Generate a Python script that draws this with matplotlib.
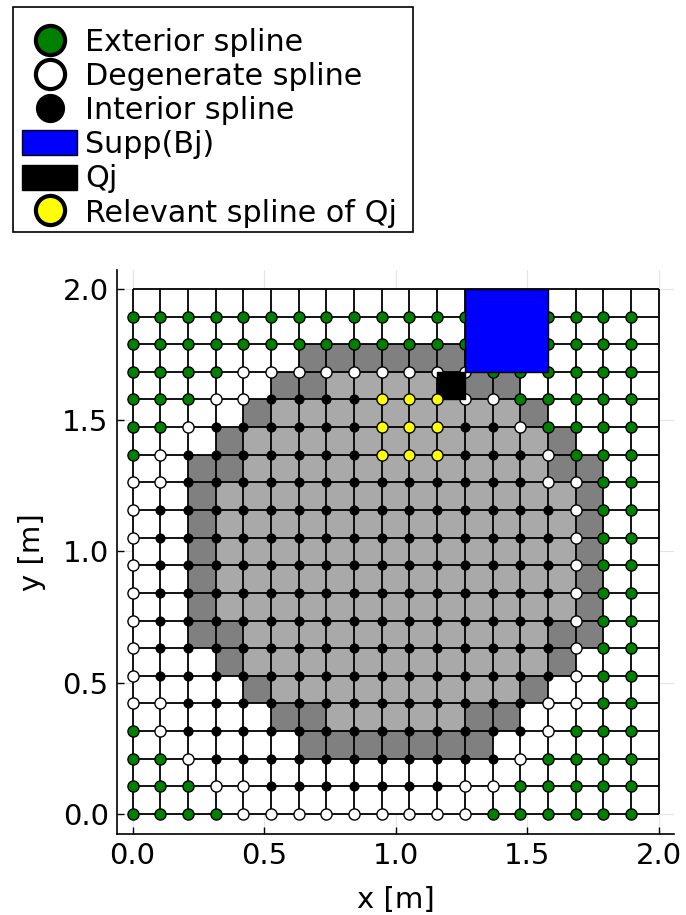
import numpy as np
import matplotlib
matplotlib.use("Agg")
import matplotlib.pyplot as plt
from matplotlib.colors import ListedColormap
from matplotlib.lines import Line2D
from matplotlib.patches import Patch, Rectangle

plt.rcParams['font.family'] = ['DejaVu Sans']

# Uniform grid on [0, 2] x [0, 2] with 19 cells per direction
n_cells = 19
domain_length = 2.0

# Cell classification, top row (j=18) first:
# '.' outside the domain, 'c' cut by the boundary, 'i' fully inside
cell_rows = [
    "...................",
    "...................",
    "......ccccccc......",
    ".....cciiiiicc.....",
    "....ciiiiiiiiic....",
    "...ciiiiiiiiiiic...",
    "..cciiiiiiiiiiicc..",
    "..ciiiiiiiiiiiiic..",
    "..ciiiiiiiiiiiiic..",
    "..ciiiiiiiiiiiiic..",
    "..ciiiiiiiiiiiiic..",
    "..ciiiiiiiiiiiiic..",
    "..cciiiiiiiiiiicc..",
    "...ciiiiiiiiiiic...",
    "....ciiiiiiiiic....",
    ".....cciiiiicc.....",
    "......ccccccc......",
    "...................",
    "...................",
]

# Spline classification at each lower-left support node, top row (j=18) first:
# 'E' exterior, 'D' degenerate, 'I' interior
spline_rows = [
    "EEEEEEEEEEEEEEEEEEE",
    "EEEEEEEEEEEEEEEEEEE",
    "EEEEDDDDDDDDDEEEEEE",
    "EEEDDIIIIIIIDDEEEEE",
    "EEDIIIIIIIIIIIDEEEE",
    "EDIIIIIIIIIIIIIDEEE",
    "DDIIIIIIIIIIIIIDDEE",
    "DIIIIIIIIIIIIIIIDEE",
    "DIIIIIIIIIIIIIIIDEE",
    "DIIIIIIIIIIIIIIIDEE",
    "DIIIIIIIIIIIIIIIDEE",
    "DIIIIIIIIIIIIIIIDEE",
    "DIIIIIIIIIIIIIIIDEE",
    "DIIIIIIIIIIIIIIIDEE",
    "DDIIIIIIIIIIIIIDDEE",
    "EDIIIIIIIIIIIIIDEEE",
    "EEDIIIIIIIIIIIDEEEE",
    "EEEDDIIIIIIIDDEEEEE",
    "EEEEDDDDDDDDDEEEEEE",
]

# Support of B_j (cell index ranges) and the cell Q_j
supp_cols = [12, 13, 14]
supp_rows = [16, 17, 18]
q_col = 11
q_row = 15

# Splines relevant for Q_j (node indices)
relevant_cols = [9, 10, 11]
relevant_rows = [13, 14, 15]

tick_values = [0.0, 0.5, 1.0, 1.5, 2.0]
tick_labels = ["0.0", "0.5", "1.0", "1.5", "2.0"]

h = domain_length / n_cells
edges = np.arange(n_cells + 1) * h

cell_code = {'.': 0, 'c': 1, 'i': 2}
cells = np.array([[cell_code[ch] for ch in row] for row in cell_rows[::-1]])
types = np.array([list(row) for row in spline_rows[::-1]])
jj, ii = np.indices(types.shape)

FS = 21
LFS = 21.7
W, H = 686, 915
fig = plt.figure(figsize=(W / 100, H / 100), dpi=100)
ax = fig.add_axes([117 / W, 81 / H, 557 / W, 564 / H])

# background grid at tick positions
ax.set_axisbelow(True)
ax.grid(True, color='#e4e4e4', lw=0.8, zorder=0)

cmap = ListedColormap(['#ffffff', '#808080', '#a9a9a9'])
ax.pcolormesh(edges, edges, cells, cmap=cmap, vmin=-0.5, vmax=2.5, zorder=1)

ax.vlines(edges, 0, domain_length, colors='black', lw=1.3, zorder=2)
ax.hlines(edges, 0, domain_length, colors='black', lw=1.3, zorder=2)

style = {
    'E': dict(mfc='#008000', mec='black', ms=8.0, mew=1.0),
    'D': dict(mfc='white', mec='black', ms=8.0, mew=1.0),
    'I': dict(mfc='black', mec='black', ms=6.3, mew=1.0),
}
for key, st in style.items():
    m = types == key
    ax.plot(ii[m] * h, jj[m] * h, 'o', ls='none', zorder=3, **st)

ax.add_patch(Rectangle((supp_cols[0] * h, supp_rows[0] * h),
                       len(supp_cols) * h, len(supp_rows) * h,
                       facecolor='#0000ff', edgecolor='black', lw=1.0, zorder=4))
ax.add_patch(Rectangle((q_col * h, q_row * h), h, h,
                       facecolor='black', edgecolor='black', lw=1.0, zorder=5))

rx, ry = np.meshgrid(relevant_cols, relevant_rows)
ax.plot(rx.ravel() * h, ry.ravel() * h, 'o', ls='none', mfc='#ffff00', mec='black',
        ms=8.0, mew=1.0, zorder=6)

ax.set_xlim(-0.059, 2.058)
ax.set_ylim(-0.076, 2.072)
ax.set_xticks(tick_values)
ax.set_xticklabels(tick_labels)
ax.set_yticks(tick_values)
ax.set_yticklabels(tick_labels)
ax.tick_params(direction='in', length=5, width=1.0, labelsize=FS, pad=6)
for side in ['top', 'right']:
    ax.spines[side].set_visible(False)
for side in ['left', 'bottom']:
    ax.spines[side].set_linewidth(1.2)
ax.set_xlabel("x [m]", fontsize=FS, labelpad=11)
ax.set_ylabel("y [m]", fontsize=FS, labelpad=12)

# legend frame drawn separately so the entries can sit with uneven padding
fig.patches.append(Rectangle((13 / W, 1 - 232 / H), 400 / W, 225 / H,
                             transform=fig.transFigure, facecolor='white',
                             edgecolor='black', lw=1.2, zorder=0))

handles = [
    Line2D([], [], marker='o', ls='none', mfc='#008000', mec='black', mew=3.0, ms=21),
    Line2D([], [], marker='o', ls='none', mfc='white', mec='black', mew=3.0, ms=21),
    Line2D([], [], marker='o', ls='none', mfc='black', mec='black', mew=1.0, ms=20),
    Patch(facecolor='#0000ff', edgecolor='black', lw=1.0),
    Patch(facecolor='black', edgecolor='black', lw=1.0),
    Line2D([], [], marker='o', ls='none', mfc='#ffff00', mec='black', mew=3.0, ms=21),
]
labels = ["Exterior spline", "Degenerate spline", "Interior spline",
          "Supp(Bj)", "Qj", "Relevant spline of Qj"]
leg = fig.legend(handles, labels, loc='upper left',
                 bbox_to_anchor=(22 / W, 1 - 28 / H),
                 fontsize=LFS, frameon=False, borderaxespad=0, borderpad=0,
                 handlelength=1.83, handleheight=0.9, handletextpad=0.27,
                 labelspacing=0.17)

fig.savefig("out.png", dpi=100)
